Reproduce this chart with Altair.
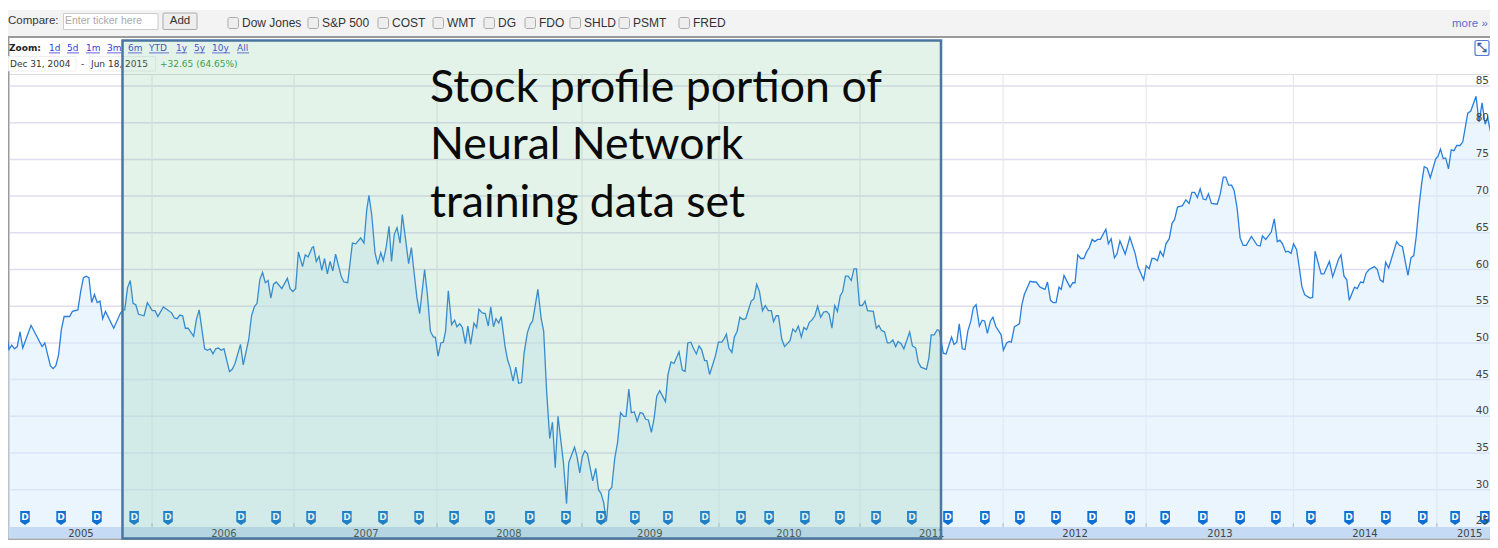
import altair as alt
import pandas as pd

weeks = [-1.6,-1,0,1,2,3,4,5,8,12,13,15,16,17,18,19,20,22,23,25,26,27,28,29,30,31,32,33,34,35,38,40.5,
41.5,42,43,44,45,46,47,49,50.2,52,53,54,56,59,60,61,62,63,64,65,67,68,69,70,71,72,73,74,75,76,77,78,80,81,82,84,85,87,88,89,90,91,92,93,94,95,96,97,99,101,102,103,104,105,106.5,107.5,108.5,110,110.5,111.5,112.5,113.5,114.5,115.5,116.5,117.5,118.5,120.5,121.5,122.9,
124.6,125.8,127.6,128.8,129.8,130.6,131.6,132.8,133.8,134.9,135.8,136.8,137.9,138.8,139.8,140.8,141.9,142.7,143.9,145,146,147,148,149,150.8,151.8,152.9,154,154.7,155.7,156.7,157.6,158.4,159.4,160.6,161.7,162.5,163.6,164.5,165.6,166.5,167.5,168.7,169.7,170.5,171.7,172.8,173.9,174.8,175.8,176.7,177.7,178.6,
180,180.9,181.8,182.9,183.9,184.9,186,186.9,188.1,189.1,190,191.9,193.1,194,195.1,196.2,197.2,198.2,199.2,201.2,202.3,203.1,205.2,206.1,207.1,208,208.9,209.9,211.8,212.9,213.9,214.8,215.8,216.3,216.8,217.7,218.7,219.8,220.8,221.9,223,223.9,224.9,225.8,226.9,227.9,229,230,231,232,233.1,234.1,235,236.1,238.2,239.1,240.2,241.3,243.1,244.3,245.3,246.3,247.4,248.3,249.4,250.4,
251.3,252.4,253.2,254.2,256.3,257.4,258.6,259.4,260.3,261.2,262.3,263.2,264.2,265.2,266.3,267.3,269.3,270.3,271.3,272.3,273.4,274.4,275.5,276.6,277.4,278.4,279.2,280.4,281.4,283.4,284.4,285.4,286.4,287.5,288.4,289.4,290.4,291.3,292.4,293.4,294.5,295.6,296.7,297.6,298.6,299.6,300.6,301.6,302.5,303.5,304.5,305.6,306.6,307.5,308.6,309.6,310.6,311.5,313.6,314.7,315.6,316.6,317.7,318.7,319.6,320.7,321.7,322.6,323.7,324.7,326.8,327.8,329,329.9,330.9,332.9,333.8,334.6,335.7,336.8,337.5,339,340,
342,342.9,343.9,344.8,345.9,346.9,347.9,349,349.9,350.9,352.1,353.1,354,355,356.1,357,358.1,360,360.8,362,362.9,363.7,364.8,366.6,367.5,368.4,370.5,371.7,372.7,374.1,375.9,376.8,377.9,378.9,379.9,381,381.8,382.8,385,386,386.8,387.8,388.9,390,391,392,393,394,395,396,398,398.9,399.9,401.1,402,403.1,405,
406.7,408.6,409.7,411.7,412.6,413.7,414.7,415.6,416.7,417.7,418.8,419.8,421,422,422.9,424,425.8,427,428.2,429.2,430.2,431.2,432.2,433.3,434.3,435.2,436.3,438.4,439.5,440.6,441.5,442.5,443.6,444.5,445.6,446.7,447.8,448.9,450.8,452.9,454,454.8,456,458,459.1,460.2,461.1,462.1,463.2,464.1,465.2,466.1,467.2,468.2,469.1,470.1,471.2,472.1,473,473.9,476.1,477.1,
479.1,480.3,482.4,483.3,484.4,485.4,486.3,488.2,489.2,490.4,491.4,492.4,493.5,495.4,496.5,497.5,498.6,499.5,500.6,503.5,504.5,505.6,507.6,508.7,509.7,510.6,511.6,512.6,513.5,514.6,515.7,517.7,518.5,519.4,520.4,521.3,522.3,523.3,524.3,525.3,526.5,527.5,529.3,530.4,532.3,533.4,534.5,535.6,536.5,537.6,538.6,540.3]

prices = [51.8,51.5,49.1,49.7,49.2,49.5,51.5,49.3,52.4,49.5,50,46.9,46.5,46.9,48.4,51.8,53.6,53.6,54.3,54.5,57,58.9,59.1,58.9,55.5,56.6,55.5,55.7,53.3,54.3,52,54.1,
54.5,54.5,57.5,58.5,55.4,55.2,53.9,53.7,55.5,54.4,54.4,53.6,54.9,54.1,53.4,53.3,53.8,53.7,52,52,50.9,53.2,54.5,51.8,49.2,49,49.2,48.5,49.2,49.3,49,49.2,46.1,46.4,47.2,49.8,47,50.5,53.7,54.9,55.4,58.6,59.6,58.2,58.5,56.1,58,58.3,57.4,58.8,57.4,57,57.4,62.4,60.4,62,61.7,63,63.1,61.1,61.8,59.9,61.5,59.4,61.1,59.8,62.1,59.1,58.3,58.2,
63.6,63.5,64.3,63.6,68.1,70.1,67.5,62.3,60.7,62.3,61.2,62.9,65.9,61.1,64.8,65.7,63.6,67.5,64.1,60.8,63,59.5,56.2,54,60,56.6,51.6,50.8,50.8,48.2,50,50.1,51.6,57.1,52.5,53.1,52.2,52.6,52.1,49.9,52.3,49.8,52.7,52.1,54.6,54.1,54,52.3,54.9,52.2,53.3,52.7,53.6,
49.5,47.7,46.7,44.8,46.7,44.5,44.6,48.6,51.4,52.5,53,57.3,53.3,51.6,43.2,37,39.2,33,40,33.6,28.1,33.7,35.8,34.5,32.3,34.5,35.3,34.9,31.2,32.9,30,29.5,28.2,26.8,25.7,29.9,30.3,34.3,36.4,40.5,40,40,43.7,40.5,40.6,39.3,40.5,40.4,39.6,39.5,37.8,39.8,42.7,43.5,42,45.7,47.4,47.2,48.8,46.3,46.1,50,50.1,49.3,48.5,49.6,
49.1,47.6,47.6,45.7,48.2,50.1,50.1,50.5,51.2,49.3,48.7,50.8,51.6,53.5,53.2,53.3,55.7,56,58,57,54.4,55.1,54.4,54.4,52.9,53.7,53.7,50.5,49.5,50.3,51.9,51.5,52.3,50.8,52.1,51.8,52.8,53.1,53.7,55,53.5,54.2,54.3,53.9,52,55.1,54.3,56.4,57,59.1,59.1,58.5,60.1,60.1,55.1,55.1,55.7,54.4,54.3,52,52.4,51.7,51.5,50,50,50.4,49.5,50.2,49.9,49.2,51.5,49.6,49.3,47.4,46.7,46.4,48,51.1,51.1,51.8,51.7,48.6,48.5,
50.8,49.8,50.1,52.6,49.2,49.1,51.6,53,54.8,55.2,52.3,53.1,53,51.3,53,53.5,52.2,51.1,49,50,50.2,50.1,52.2,52.6,55.2,56.6,58.4,58.3,58.3,57.6,57.3,58.3,55.8,55.5,55.5,57.6,57.3,59.2,57.6,58.2,58.2,62,61.5,61.5,62.4,63,64.1,63.8,64.1,64.1,65.5,63.5,64.2,61.6,62.1,63.9,62.1,
64.4,62.2,60.3,58.6,60.5,60.1,61.5,61.5,61.2,62.5,61.8,63.5,64.2,66.3,66.8,68.5,68.7,69.5,69,70.5,70.5,69.8,71,69.6,69.5,70.3,69,68.9,70.3,72.6,72.6,71.5,71.5,70.8,68.4,64.3,63.3,63.3,64.5,63.3,63.2,64.6,64.1,65.1,66.9,63.8,64,63.5,62.4,62.5,62.2,63.5,62.7,60.2,57.7,56.6,56.3,56.1,56.2,62.5,59.4,59.4,
61.1,59,61.4,62,59.1,58.6,55.8,57.6,57.4,58.3,58.2,59.5,60,60.4,60,58.6,58.3,61,60.2,63.8,63.3,63.1,59.2,61.6,61.9,64.5,68.6,71.8,74,73.8,72.5,75.1,75.4,76.4,75.1,75.2,73.7,76.3,76.2,76.9,76.9,77.4,81.3,81.6,83.6,80.1,82.7,79.8,80.7,78.7,79.3,79.3]

grid_prices = [85, 80, 75, 70, 65, 60, 55, 50, 45, 40, 35, 30]
axis_prices = [85, 80, 75, 70, 65, 60, 55, 50, 45, 40, 35, 30, 25]
year_boundary_weeks = [51.9, 103.4, 155.3, 207.9, 257.6, 308.8, 360.7, 412.6, 466, 518.1]
year_labels = [2005, 2006, 2007, 2008, 2009, 2010, 2011, 2012, 2013, 2014, 2015]
year_label_weeks = [26.1, 78, 129.5, 181.4, 232.5, 283, 334.8, 386.8, 439.4, 492, 530]
dividend_weeks = [5.8,18.9,31.9,45.4,57.7,84.2,96.9,109.6,122.6,135.7,148.8,161.5,174.5,189,202.1,214.8,227.1,239.1,252.5,265.6,275.8,288.8,301.5,314.6,327.6,340.7,354.1,366.8,379.9,393,406.8,419.5,433.2,446.7,459.7,472.4,486.2,499.6,513,524.7,535.5]
compare_names = ["Dow Jones", "S&P 500", "COST", "WMT", "DG", "FDO", "SHLD", "PSMT", "FRED"]
compare_box_x = [228, 308, 378, 433, 484, 525, 570, 619, 679]
zoom_links = ["1d", "5d", "1m", "3m", "6m", "YTD", "1y", "5y", "10y", "All"]
zoom_link_x = [(49, 60), (67, 79), (86, 100), (107, 121), (128, 142), (149, 169), (176, 187), (194, 205), (212, 230), (237, 249)]
callout = ["Stock profile portion of", "Neural Network", "training data set"]

X = alt.Scale(domain=[-0.363, 537.37], nice=False, zero=False)
Y = alt.Scale(domain=[23.15, 95.63], nice=False, zero=False)
xenc = lambda f: alt.X(f, type="quantitative", scale=X, axis=None)
yenc = lambda f: alt.Y(f, type="quantitative", scale=Y, axis=None)

def box(x0, y0, x1, y1, fill="#ffffff", stroke=None, sw=1, r=0, op=1):
    kw = dict(fill=fill, opacity=op, cornerRadius=r)
    if stroke:
        kw.update(stroke=stroke, strokeWidth=sw)
    return alt.Chart().mark_rect(**kw).encode(
        x=alt.value(x0 - 8), x2=alt.value(x1 - 8), y=alt.value(y0 - 8), y2=alt.value(y1 - 8))

def label(t, x, y, size=12, color="#333333", font="Liberation Sans", bold=False, align="left"):
    return alt.Chart().mark_text(text=t, font=font, fontSize=size, color=color, align=align,
                                 baseline="middle", fontWeight="bold" if bold else "normal"
                                 ).encode(x=alt.value(x - 8), y=alt.value(y - 8))

series = pd.DataFrame({"week": weeks, "price": prices})
layers = []

# page chrome
layers.append(box(8, 10, 1490, 36, "#f3f3f3"))
layers.append(box(8, 36, 1490, 38, "#9a9a9a"))
layers.append(label("Compare:", 8, 21, 11.5))
layers.append(box(63.5, 13.5, 158, 29.5, "#ffffff", "#cccccc"))
layers.append(label("Enter ticker here", 65, 21, 10.5, "#aaaaaa"))
layers.append(box(163, 13, 197, 29.5, "#eeeeee", "#aaaaaa", r=1))
layers.append(label("Add", 180, 21, 11.5, "#333333", align="center"))
for name, bx in zip(compare_names, compare_box_x):
    layers.append(box(bx, 17.5, bx + 10.5, 28.5, "#eeeeee", "#aaaaaa", r=2))
    layers.append(label(name, bx + 14, 23, 12))
layers.append(label("more »", 1452, 23.5, 11.5, "#5b6fcb"))

# chart frame
layers.append(box(8, 74, 1490, 75, "#dddddd"))
layers.append(box(8, 38, 9.5, 540, "#9a9a9a"))

# grid
grid_df = pd.DataFrame({"price": grid_prices})
layers.append(alt.Chart(grid_df).mark_rule(color="#dedef0", strokeWidth=1.5).encode(
    y=yenc("price"), x=alt.value(2), x2=alt.value(1482)))
year_df = pd.DataFrame({"week": year_boundary_weeks})
layers.append(alt.Chart(year_df).mark_rule(color="#e4e4e4", strokeWidth=1).encode(
    x=xenc("week"), y=alt.value(66), y2=alt.value(519)))
layers.append(alt.Chart(year_df).mark_rule(color="#888888", strokeWidth=1).encode(
    x=xenc("week"), y=alt.value(515), y2=alt.value(519)))

# series
layers.append(alt.Chart(series).mark_area(color="#d7ebfd", opacity=0.5, clip=True).encode(
    x=xenc("week"), y=yenc("price"), y2=alt.value(519)))
layers.append(alt.Chart(series).mark_line(color="#2a7fdc", strokeWidth=1.3, clip=True).encode(
    x=xenc("week"), y=yenc("price")))

# bottom band
layers.append(box(9.5, 527, 1490, 538.5, "#c5daf5"))
layers.append(box(8, 538.5, 1490, 540, "#a9a9a9"))
year_text = pd.DataFrame({"label": [str(y) for y in year_labels], "week": year_label_weeks})
layers.append(alt.Chart(year_text).mark_text(font="DejaVu Sans", fontSize=10, color="#444444", baseline="middle").encode(
    x=xenc("week"), y=alt.value(525.5), text="label:N"))

# dividend flags
flag = "M-0.68,-1L0.68,-1L0.68,0.55L0,1L-0.68,0.55Z"
div_df = pd.DataFrame({"week": dividend_weeks, "t": ["D"] * len(dividend_weeks)})
layers.append(alt.Chart(div_df).mark_point(shape=flag, size=196, filled=True, color="#0d6fd3", opacity=1, clip=True).encode(
    x=xenc("week"), y=alt.value(510)))
layers.append(alt.Chart(div_df).mark_text(font="DejaVu Sans", fontWeight="bold", fontSize=9, color="#ffffff", baseline="middle", clip=True).encode(
    x=xenc("week"), y=alt.value(509), text="t:N"))

# price axis labels
axis_df = pd.DataFrame({"price": axis_prices, "t": [str(p) for p in axis_prices]})
layers.append(alt.Chart(axis_df).mark_text(font="DejaVu Sans", fontSize=10.5, color="#444444", align="right", baseline="middle", dy=-5).encode(
    x=alt.value(1481), y=yenc("price"), text="t:N"))

# zoom row
layers.append(label("Zoom:", 9, 48, 9, "#222222", "DejaVu Sans", True))
for t, (a, b) in zip(zoom_links, zoom_link_x):
    layers.append(label(t, a, 47.5, 9, "#3a3ad6", "DejaVu Sans"))
    layers.append(box(a, 52.5, b, 53.3, "#3a3ad6"))
layers.append(box(8.5, 56.5, 76, 71, "#ffffff", "#eeeeee"))
layers.append(box(89.5, 56.5, 155.5, 71, "#ffffff", "#eeeeee"))
layers.append(label("Dec 31, 2004", 10, 63.5, 9, "#333333", "DejaVu Sans"))
layers.append(label("-", 81, 63.5, 9, "#333333", "DejaVu Sans"))
layers.append(label("Jun 18, 2015", 91, 63.5, 9, "#333333", "DejaVu Sans"))
layers.append(label("+32.65 (64.65%)", 160, 63.5, 9, "#2a9a3a", "DejaVu Sans"))

# collapse icon
layers.append(box(1475, 40.5, 1489, 55.5, "#ffffff", "#5a78d0", 1.2, 2))
layers.append(label("⤡", 1482, 48, 12, "#3a5a9a", "DejaVu Sans", True, "center"))

# overlay
layers.append(box(122.5, 40.5, 941, 539, "#73c391", None, 0, 0, 0.2))
layers.append(alt.Chart().mark_rect(fillOpacity=0, stroke="#4a76a0", strokeWidth=2.5).encode(
    x=alt.value(114.5), x2=alt.value(933), y=alt.value(32.5), y2=alt.value(530.5)))
for t, y in zip(callout, [88.5, 145.5, 203.5]):
    layers.append(label(t, 430, y, 44.6, "#0a0a0a", "Lato"))

chart = alt.layer(*layers).properties(
    width=1482, height=532, padding=0, autosize=alt.AutoSizeParams(type="none")
).configure_view(strokeWidth=0)

chart.save("out.html", embed_options={"renderer": "svg", "actions": False})
